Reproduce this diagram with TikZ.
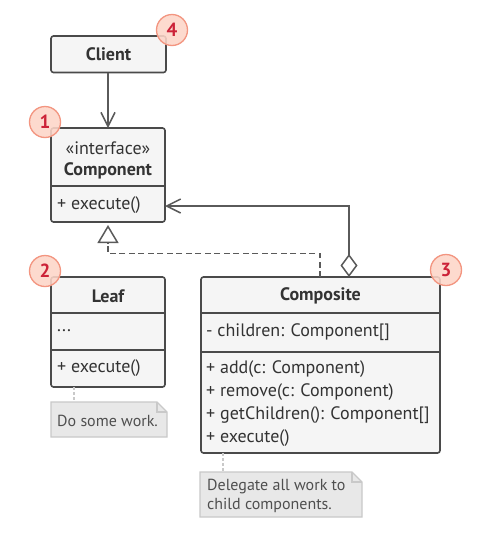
\documentclass[tikz,border=0pt]{standalone}
\usepackage{fontspec}
\setmainfont{PT Sans}
\usetikzlibrary{arrows.meta,shapes.geometric}
\definecolor{boxfill}{HTML}{F5F5F5}
\definecolor{boxline}{HTML}{4A4A4A}
\definecolor{conn}{HTML}{5A5A5A}
\definecolor{notefill}{HTML}{E8E8E8}
\definecolor{noteline}{HTML}{C9C9C9}
\definecolor{notetext}{HTML}{4F4F4F}
\definecolor{badgefill}{HTML}{FDD5C8}
\definecolor{badgeline}{HTML}{F39580}
\definecolor{badgetext}{HTML}{CC2238}
\definecolor{txt}{HTML}{333333}
\tikzset{
  x=1pt,y=-1pt,
  umlbox/.style={draw=boxline,fill=boxfill,line width=1.6pt,rounded corners=2.5pt},
  divider/.style={draw=boxline,line width=1.6pt},
  title/.style={font=\fontsize{18}{20}\selectfont\bfseries,text=txt,anchor=center,inner sep=0pt},
  plaintitle/.style={font=\fontsize{18}{20}\selectfont,text=txt,anchor=center,inner sep=0pt},
  member/.style={font=\fontsize{18}{20}\selectfont,text=txt,anchor=west,inner sep=0pt},
  conline/.style={draw=conn,line width=1.5pt},
  vhead/.style={-{Straight Barb[length=14pt,width=14pt]}},
  badge/.style={circle,minimum size=31pt,inner sep=0pt,fill=badgefill,fill opacity=0.88,text opacity=1,draw=badgeline,line width=1.3pt,text=badgetext,font=\fontsize{19}{20}\selectfont\bfseries},
  notetxt/.style={font=\fontsize{16}{18}\selectfont,text=notetext,anchor=west,inner sep=0pt,align=left},
  notebox/.style={fill=notefill,draw=noteline,line width=1.3pt},
  notelink/.style={draw=noteline,line width=1.2pt,dash pattern=on 3pt off 2pt},
}
\begin{document}
\begin{tikzpicture}
\useasboundingbox[fill=white] (0,0) rectangle (481,552);

% ---- Client ----
\draw[umlbox] (51,36) rectangle (166,72.5);
\node[title] (client) at (108.5,54.5) {Client};
\coordinate (clientS) at (108,72.5);

% ---- Component ----
\draw[umlbox] (51,128) rectangle (165,222);
\draw[divider] (51,186) -- (165,186);
\node[plaintitle] (iface) at (108,148) {«interface»};
\node[title] (component) at (108,171) {Component};
\node[member] (compexec) at (57,205) {+ execute()};
\coordinate (compN) at (108,128);
\coordinate (compE) at (165,206);
\coordinate (compS) at (108,222);

% ---- Leaf ----
\draw[umlbox] (51,277) rectangle (165,387);
\draw[divider] (51,313) -- (165,313);
\draw[divider] (51,350) -- (165,350);
\node[title] (leaf) at (108,296) {Leaf};
\node[member] (leafdots) at (57,331) {...};
\node[member] (leafexec) at (57,368) {+ execute()};
\coordinate (leafN) at (108,277);
\coordinate (leafS) at (74,387);

% ---- Composite ----
\draw[umlbox] (201,277) rectangle (440,453);
\draw[divider] (201,313) -- (440,313);
\draw[divider] (201,352) -- (440,352);
\node[title] (composite) at (320.5,296) {Composite};
\node[member] (children) at (206,332) {- children: Component[]};
\node[member] (add) at (206,369) {+ add(c: Component)};
\node[member] (remove) at (206,392) {+ remove(c: Component)};
\node[member] (getch) at (206,415) {+ getChildren(): Component[]};
\node[member] (cexec) at (206,438) {+ execute()};
\coordinate (compoN1) at (320,277);
\coordinate (compoN2) at (349,277);
\coordinate (compoS) at (223,453);

% ---- connectors ----
\draw[conline,vhead] (clientS) -- (compN);
\draw[conline,{Diamond[open,length=23pt,width=17pt,fill=white]}-{Straight Barb[length=14pt,width=14pt]}]
  (compoN2) -- (349,206) -- (compE);
\draw[conline,dash pattern=on 6pt off 3.5pt] (compoN1) -- (320,253.5) -- (108,253.5) -- (108,243);
\draw[conline,-{Triangle[open,length=18pt,width=21pt,fill=white]}] (108,244) -- ([yshift=-3pt]compS);

% ---- notes ----
\draw[notelink] (leafS) -- (74,402);
\draw[notebox] (51,402) -- (157,402) -- (167,412) -- (167,437) -- (51,437) -- cycle;
\draw[noteline,line width=1.1pt] (157,402) -- (157,412) -- (167,412);
\node[notetxt] (note1) at (57,421) {Do some work.};

\draw[notelink] (compoS) -- (223,472);
\draw[notebox] (200,472) -- (352,472) -- (362,482) -- (362,517) -- (200,517) -- cycle;
\draw[noteline,line width=1.1pt] (352,472) -- (352,482) -- (362,482);
\node[notetxt] (note2a) at (207,487) {Delegate all work to};
\node[notetxt] (note2b) at (207,505) {child components.};

% ---- badges ----
\node[badge] (b1) at (45,122) {1};
\node[badge] (b2) at (45,271) {2};
\node[badge] (b3) at (446,270) {3};
\node[badge] (b4) at (172,30) {4};
\end{tikzpicture}
\end{document}
